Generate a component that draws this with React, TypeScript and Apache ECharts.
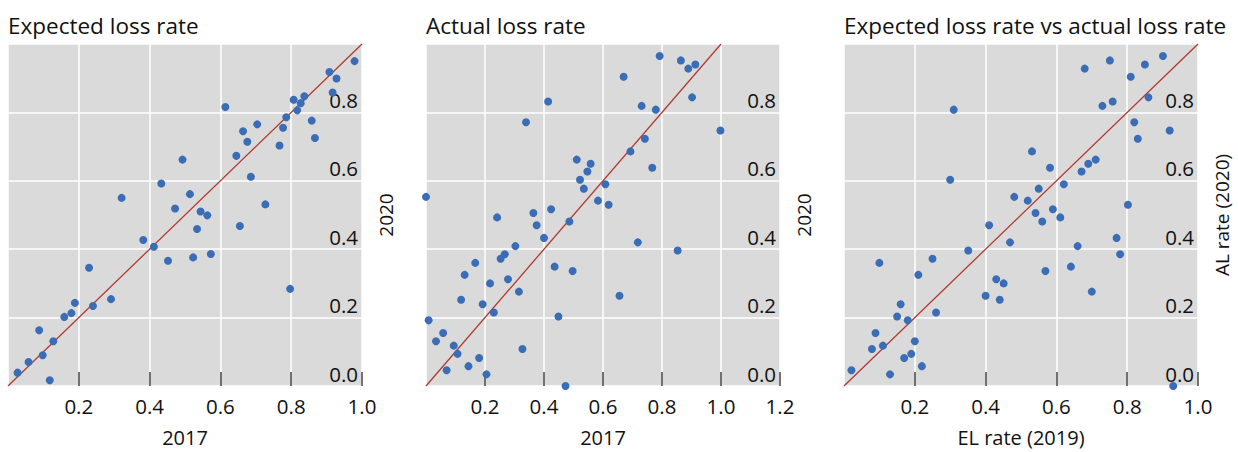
import React, { useEffect, useRef } from "react";
import * as echarts from "echarts";

// Panel 1: Expected loss rate, 2017 (x) vs 2020 (y)
const expectedLoss: number[][] = [
  [0.979, 0.950], [0.908, 0.918], [0.928, 0.899], [0.917, 0.858], [0.807, 0.837], [0.837, 0.847],
  [0.827, 0.827], [0.817, 0.806], [0.614, 0.816], [0.786, 0.786], [0.777, 0.755], [0.858, 0.776],
  [0.867, 0.725], [0.704, 0.765], [0.664, 0.745], [0.676, 0.714], [0.767, 0.703], [0.645, 0.673],
  [0.493, 0.662], [0.686, 0.612], [0.433, 0.592], [0.514, 0.561], [0.321, 0.550], [0.472, 0.519],
  [0.727, 0.531], [0.544, 0.510], [0.563, 0.499], [0.534, 0.459], [0.655, 0.468], [0.382, 0.427],
  [0.412, 0.407], [0.452, 0.366], [0.523, 0.376], [0.573, 0.386], [0.797, 0.284], [0.229, 0.346],
  [0.291, 0.254], [0.189, 0.243], [0.240, 0.234], [0.179, 0.213], [0.159, 0.202], [0.088, 0.163],
  [0.128, 0.131], [0.098, 0.090], [0.058, 0.070], [0.027, 0.039], [0.118, 0.017],
];

// Panel 2: Actual loss rate, 2017 (x) vs 2020 (y)
const actualLoss: number[][] = [
  [0.792, 0.965], [0.864, 0.952], [0.913, 0.940], [0.889, 0.928], [0.670, 0.904], [0.902, 0.844],
  [0.414, 0.832], [0.731, 0.819], [0.779, 0.808], [0.339, 0.771], [0.998, 0.747], [0.742, 0.723],
  [0.693, 0.686], [0.511, 0.662], [0.558, 0.650], [0.547, 0.627], [0.767, 0.638], [0.522, 0.603],
  [0.608, 0.590], [0.535, 0.577], [0.583, 0.542], [0.619, 0.530], [0.000, 0.553], [0.241, 0.493],
  [0.364, 0.506], [0.424, 0.517], [0.375, 0.470], [0.486, 0.481], [0.400, 0.433], [0.718, 0.420],
  [0.853, 0.396], [0.303, 0.409], [0.267, 0.385], [0.253, 0.372], [0.167, 0.360], [0.131, 0.325],
  [0.217, 0.300], [0.278, 0.312], [0.436, 0.349], [0.497, 0.336], [0.315, 0.276], [0.119, 0.252],
  [0.656, 0.264], [0.192, 0.239], [0.230, 0.215], [0.449, 0.203], [0.009, 0.192], [0.058, 0.155],
  [0.034, 0.131], [0.094, 0.118], [0.107, 0.094], [0.327, 0.108], [0.180, 0.082], [0.144, 0.058],
  [0.070, 0.046], [0.205, 0.034], [0.473, 0.000],
];

// Panel 3: EL rate (2019) vs AL rate (2020)
const elVsAl: number[][] = [
  [0.901, 0.965], [0.751, 0.952], [0.850, 0.940], [0.680, 0.928], [0.810, 0.904], [0.860, 0.844],
  [0.759, 0.832], [0.730, 0.819], [0.310, 0.808], [0.820, 0.771], [0.920, 0.747], [0.830, 0.723],
  [0.531, 0.686], [0.711, 0.662], [0.690, 0.650], [0.582, 0.638], [0.671, 0.627], [0.300, 0.603],
  [0.621, 0.590], [0.550, 0.577], [0.481, 0.553], [0.519, 0.542], [0.802, 0.530], [0.541, 0.506],
  [0.590, 0.517], [0.560, 0.481], [0.611, 0.493], [0.410, 0.470], [0.469, 0.420], [0.770, 0.433],
  [0.660, 0.409], [0.780, 0.385], [0.351, 0.396], [0.250, 0.372], [0.100, 0.360], [0.569, 0.336],
  [0.641, 0.349], [0.430, 0.312], [0.451, 0.300], [0.210, 0.325], [0.700, 0.276], [0.400, 0.264],
  [0.440, 0.252], [0.160, 0.239], [0.260, 0.215], [0.150, 0.203], [0.180, 0.192], [0.089, 0.155],
  [0.079, 0.108], [0.110, 0.118], [0.200, 0.131], [0.190, 0.094], [0.170, 0.082], [0.220, 0.058],
  [0.021, 0.046], [0.130, 0.034], [0.930, 0.000],
];

// y = x reference line
const diagonal: number[][] = [[0, 0], [1, 1]];

const titles = ["Expected loss rate", "Actual loss rate", "Expected loss rate vs actual loss rate"];
const xNames = ["2017", "2017", "EL rate (2019)"];
const yNames = ["2020", "2020", "AL rate (2020)"];
const xMax = [1.0, 1.2, 1.0];
const panelData = [expectedLoss, actualLoss, elVsAl];

const FONT = "'Open Sans', 'Noto Sans', 'DejaVu Sans', sans-serif";
const GRID_LEFT = [8, 426, 844];
const GRID_TOP = 44;
const GRID_W = 354;
const GRID_H = 344;

export default function App() {
  const ref = useRef<HTMLDivElement>(null);

  useEffect(() => {
    if (!ref.current) return;
    const chart = echarts.init(ref.current, undefined, { renderer: "svg" });
    const fmt = (v: number) => v.toFixed(1);

    const option: any = {
      animation: false,
      backgroundColor: "#ffffff",
      textStyle: { fontFamily: FONT },
      title: titles.map((t, i) => ({
        text: t,
        left: GRID_LEFT[i],
        top: 14,
        padding: 0,
        textStyle: { fontFamily: FONT, fontSize: 22.5, fontWeight: "normal", color: "#111111" },
      })),
      grid: GRID_LEFT.map((l) => ({
        left: l,
        top: GRID_TOP,
        width: GRID_W,
        height: GRID_H,
        show: true,
        backgroundColor: "#dadada",
        borderWidth: 0,
        containLabel: false,
      })),
      xAxis: GRID_LEFT.map((_, i) => ({
        type: "value",
        gridIndex: i,
        min: 0,
        max: xMax[i],
        interval: 0.2,
        name: xNames[i],
        nameLocation: "middle",
        nameGap: 41,
        nameTextStyle: { fontFamily: FONT, fontSize: 20, color: "#111111" },
        axisLine: { show: false },
        axisTick: { show: true, inside: true, length: 14, lineStyle: { color: "#444444", width: 1.5 } },
        axisLabel: {
          showMinLabel: false,
          margin: 9,
          fontFamily: FONT,
          fontSize: 20.5,
          color: "#111111",
          formatter: fmt,
        },
        splitLine: { show: true, lineStyle: { color: "#ffffff", width: 1.5 } },
      })),
      yAxis: GRID_LEFT.map((_, i) => ({
        type: "value",
        gridIndex: i,
        position: "right",
        min: 0,
        max: 1,
        interval: 0.2,
        name: yNames[i],
        nameLocation: "middle",
        nameGap: 14,
        nameTextStyle: { fontFamily: FONT, fontSize: 19, color: "#111111" },
        axisLine: { show: false },
        axisTick: { show: false },
        axisLabel: {
          inside: true,
          showMaxLabel: false,
          margin: 4,
          verticalAlign: "bottom",
          padding: [0, 0, 2, 0],
          fontFamily: FONT,
          fontSize: 20.5,
          color: "#111111",
          formatter: fmt,
        },
        splitLine: { show: true, lineStyle: { color: "#ffffff", width: 1.5 } },
      })),
      series: [
        ...panelData.map((d, i) => ({
          type: "scatter",
          xAxisIndex: i,
          yAxisIndex: i,
          data: d,
          symbolSize: 8,
          itemStyle: { color: "#3a6db5", opacity: 1 },
          z: 3,
        })),
        ...panelData.map((_, i) => ({
          type: "line",
          xAxisIndex: i,
          yAxisIndex: i,
          data: diagonal,
          symbol: "none",
          silent: true,
          lineStyle: { color: "#b03a32", width: 1.3 },
          z: 2,
        })),
      ],
    };

    chart.setOption(option);
    return () => chart.dispose();
  }, []);

  return (
    <div
      ref={ref}
      style={{ position: "absolute", left: 0, top: 0, width: 1238, height: 452 }}
    />
  );
}
